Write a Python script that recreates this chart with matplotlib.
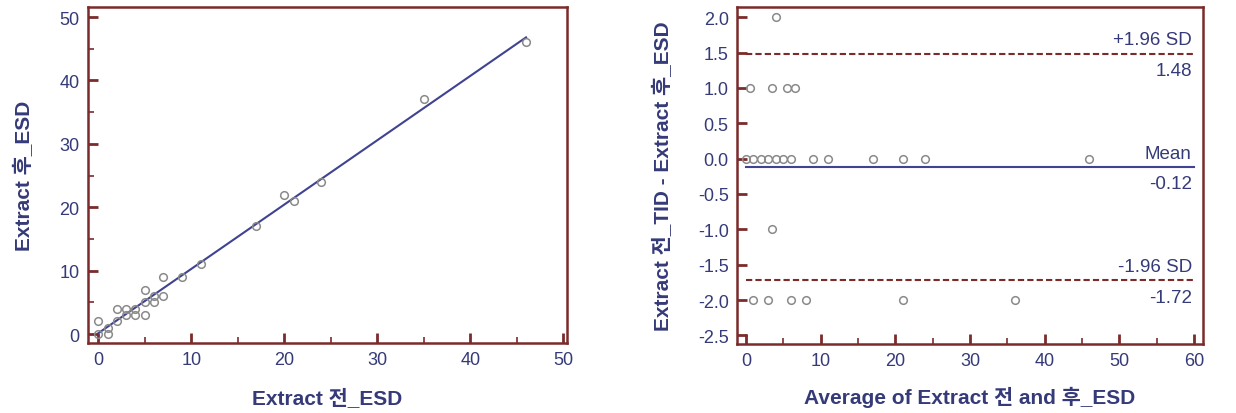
import matplotlib.pyplot as plt
import numpy as np
from matplotlib.ticker import MultipleLocator

plt.rcParams['font.family'] = ['Liberation Sans', 'Noto Sans CJK KR', 'DejaVu Sans']
plt.rcParams['axes.unicode_minus'] = False

# ESD counts before (전) and after (후) extraction
before = [0, 0, 1, 1, 2, 2, 3, 3, 4, 4, 5, 5, 5, 6, 6, 7, 7, 9, 11, 17, 20, 21, 24, 35, 46]
after = [2, 0, 0, 1, 4, 2, 4, 3, 4, 3, 7, 5, 3, 6, 5, 9, 6, 9, 11, 17, 22, 21, 24, 37, 46]

# Bland-Altman summary values shown on the chart
mean_diff = -0.12
upper_loa = 1.48
lower_loa = -1.72

frame = '#7b2b2b'
navy = '#353a78'
line_col = '#3f4391'
pt_col = '#8a8a8a'

b = np.array(before, dtype=float)
a = np.array(after, dtype=float)
avg = (b + a) / 2
diff = b - a

fig = plt.figure(figsize=(12.36, 4.14), dpi=100)
ax1 = fig.add_axes([0.0712, 0.169, 0.3875, 0.812])
ax2 = fig.add_axes([0.5963, 0.167, 0.377, 0.814])


def style(ax):
    for s in ax.spines.values():
        s.set_color(frame)
        s.set_linewidth(1.8)
    ax.tick_params(which='both', direction='in', color=frame, labelcolor=navy,
                   labelsize=13, top=False, right=False, pad=6)
    ax.tick_params(which='major', length=7, width=2)
    ax.tick_params(which='minor', length=4, width=1.2)


# scatter with regression line
slope, icpt = np.polyfit(b, a, 1)
xs = np.array([b.min(), b.max()])
ax1.plot(xs, icpt + slope * xs, color=line_col, lw=1.5, zorder=2)
ax1.plot(b, a, 'o', mfc='none', mec=pt_col, ms=5.5, mew=1.1, zorder=3)
ax1.set_xlim(-1.1, 50.4)
ax1.set_ylim(-1.4, 51.6)
ax1.xaxis.set_major_locator(MultipleLocator(10))
ax1.xaxis.set_minor_locator(MultipleLocator(5))
ax1.yaxis.set_major_locator(MultipleLocator(10))
ax1.yaxis.set_minor_locator(MultipleLocator(5))
style(ax1)
ax1.set_xlabel('Extract 전_ESD', fontsize=15, fontweight='bold', color=navy, labelpad=14)
ax1.set_ylabel('Extract 후_ESD', fontsize=15, fontweight='bold', color=navy, labelpad=18)

# Bland-Altman plot
ax2.plot([0, 60], [mean_diff, mean_diff], color=line_col, lw=1.5)
ax2.plot([0, 60], [upper_loa, upper_loa], color=frame, lw=1.5, ls=(0, (3, 1.5)))
ax2.plot([0, 60], [lower_loa, lower_loa], color=frame, lw=1.5, ls=(0, (3, 1.5)))
ax2.plot(avg, diff, 'o', mfc='none', mec=pt_col, ms=5.5, mew=1.1, zorder=3)
ax2.set_xlim(-1.2, 61.2)
ax2.set_ylim(-2.62, 2.146)
ax2.xaxis.set_major_locator(MultipleLocator(10))
ax2.xaxis.set_minor_locator(MultipleLocator(5))
ax2.yaxis.set_major_locator(MultipleLocator(0.5))
ax2.yaxis.set_major_formatter('{x:.1f}')
style(ax2)
for yv, top, bot in [(upper_loa, '+1.96 SD', f'{upper_loa:.2f}'),
                     (mean_diff, 'Mean', f'{mean_diff:.2f}'),
                     (lower_loa, '-1.96 SD', f'{lower_loa:.2f}')]:
    ax2.annotate(top, (59.7, yv), xytext=(0, 4), textcoords='offset points',
                 ha='right', va='bottom', fontsize=13.5, color=navy)
    ax2.annotate(bot, (59.7, yv), xytext=(0, -6), textcoords='offset points',
                 ha='right', va='top', fontsize=13.5, color=navy)
ax2.set_xlabel('Average of Extract 전 and 후_ESD', fontsize=15, fontweight='bold',
               color=navy, labelpad=12)
ax2.set_ylabel('Extract 전_TID - Extract 후_ESD', fontsize=15, fontweight='bold',
               color=navy, labelpad=18)

fig.savefig('out.png', dpi=100)
